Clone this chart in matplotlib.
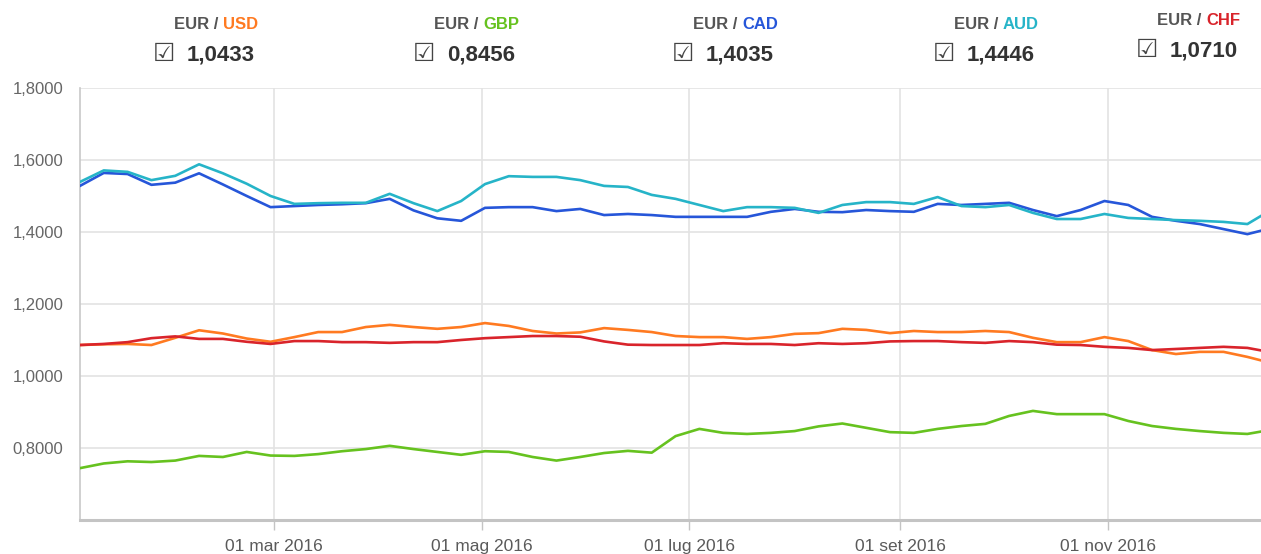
import numpy as np
import pandas as pd
import matplotlib
matplotlib.use("Agg")
from matplotlib import pyplot as plt
import matplotlib.dates as mdates

plt.rcParams['font.family'] = ['Liberation Sans', 'DejaVu Sans']

# weekly fixings, plus the last available day
dates = list(pd.date_range("2016-01-04", periods=50, freq="7D")) + [pd.Timestamp("2016-12-16")]

usd = [1.086, 1.088, 1.089, 1.086, 1.106, 1.127, 1.118, 1.104, 1.095, 1.108,
       1.122, 1.122, 1.136, 1.142, 1.136, 1.131, 1.136, 1.147, 1.139, 1.125,
       1.118, 1.121, 1.133, 1.128, 1.122, 1.111, 1.108, 1.108, 1.103, 1.108,
       1.117, 1.119, 1.131, 1.128, 1.119, 1.125, 1.122, 1.122, 1.125, 1.122,
       1.106, 1.094, 1.094, 1.108, 1.097, 1.072, 1.061, 1.067, 1.067, 1.053,
       1.0433]
gbp = [0.744, 0.757, 0.763, 0.761, 0.765, 0.778, 0.775, 0.789, 0.779, 0.778,
       0.783, 0.791, 0.797, 0.806, 0.797, 0.789, 0.781, 0.791, 0.789, 0.775,
       0.765, 0.775, 0.786, 0.792, 0.787, 0.833, 0.853, 0.842, 0.839, 0.842,
       0.847, 0.860, 0.868, 0.856, 0.844, 0.842, 0.853, 0.861, 0.867, 0.889,
       0.903, 0.894, 0.894, 0.894, 0.875, 0.861, 0.853, 0.847, 0.842, 0.839,
       0.8456]
cad = [1.528, 1.564, 1.561, 1.531, 1.537, 1.563, 1.532, 1.500, 1.469, 1.472,
       1.475, 1.477, 1.480, 1.492, 1.460, 1.438, 1.431, 1.467, 1.469, 1.469,
       1.458, 1.464, 1.447, 1.450, 1.447, 1.442, 1.442, 1.442, 1.442, 1.456,
       1.464, 1.456, 1.455, 1.461, 1.458, 1.456, 1.478, 1.475, 1.478, 1.481,
       1.461, 1.444, 1.461, 1.486, 1.475, 1.442, 1.431, 1.422, 1.408, 1.394,
       1.4035]
aud = [1.539, 1.571, 1.567, 1.544, 1.556, 1.588, 1.563, 1.534, 1.500, 1.478,
       1.480, 1.481, 1.481, 1.506, 1.480, 1.458, 1.486, 1.533, 1.555, 1.553,
       1.553, 1.544, 1.528, 1.525, 1.503, 1.492, 1.475, 1.458, 1.469, 1.469,
       1.467, 1.453, 1.475, 1.483, 1.483, 1.478, 1.497, 1.472, 1.469, 1.475,
       1.453, 1.436, 1.436, 1.450, 1.439, 1.436, 1.433, 1.431, 1.428, 1.422,
       1.4446]
chf = [1.086, 1.089, 1.094, 1.105, 1.110, 1.103, 1.103, 1.095, 1.089, 1.097,
       1.097, 1.094, 1.094, 1.092, 1.094, 1.094, 1.100, 1.105, 1.108, 1.111,
       1.111, 1.109, 1.096, 1.087, 1.086, 1.086, 1.086, 1.091, 1.089, 1.089,
       1.086, 1.091, 1.089, 1.091, 1.096, 1.097, 1.097, 1.094, 1.092, 1.097,
       1.094, 1.087, 1.086, 1.081, 1.078, 1.072, 1.075, 1.078, 1.081, 1.078,
       1.0710]

codes = ["USD", "GBP", "CAD", "AUD", "CHF"]
last_values = ["1,0433", "0,8456", "1,4035", "1,4446", "1,0710"]
colors = ["#ff7a21", "#66c21f", "#2656d9", "#26b4c8", "#d9242b"]

tick_dates = ["2016-03-01", "2016-05-01", "2016-07-01", "2016-09-01", "2016-11-01"]
tick_labels = ["01 mar 2016", "01 mag 2016", "01 lug 2016", "01 set 2016", "01 nov 2016"]
y_ticks = [0.6, 0.8, 1.0, 1.2, 1.4, 1.6, 1.8]
y_labels = ["", "0,8000", "1,0000", "1,2000", "1,4000", "1,6000", "1,8000"]

fig = plt.figure(figsize=(12.61, 5.54), dpi=100)
ax = fig.add_axes([0.0634, 0.0614, 0.9366, 0.7798])

series = [usd, gbp, cad, aud, chf]
for vals, col in zip(series, colors):
    ax.plot(dates, vals, color=col, lw=1.9, solid_joinstyle="round", zorder=3)

ax.set_xlim(dates[0], dates[-1])
ax.set_ylim(0.6, 1.8)
ax.set_yticks(y_ticks)
ax.set_yticklabels(y_labels)
ax.set_xticks([mdates.datestr2num(d) for d in tick_dates])
ax.set_xticklabels(tick_labels)

ax.grid(True, color="#e3e3e3", lw=1.2, zorder=0)
for s in ["top", "right"]:
    ax.spines[s].set_visible(False)
ax.spines["left"].set_color("#c8c8c8")
ax.spines["left"].set_linewidth(1.2)
ax.spines["bottom"].set_color("#c4c4c4")
ax.spines["bottom"].set_linewidth(2.2)
ax.tick_params(axis="y", length=0, pad=12, labelsize=12, labelcolor="#666666")
ax.tick_params(axis="x", length=7, width=1, color="#c4c4c4", pad=7,
               labelsize=12.5, labelcolor="#5a5a5a")

# header with checkboxes and last values
hdr_x = [216, 476, 735, 996, 1199]
hdr_dy = [0, 0, 0, 0, -4]
W, H = 1261, 554
for i, code in enumerate(codes):
    cx = hdr_x[i]
    dy = hdr_dy[i]
    y1 = 1 - (29 + dy) / H
    y2 = 1 - (61 + dy) / H
    fig.text((cx + 2) / W, y1, "EUR /", ha="right", va="baseline",
             fontsize=12, fontweight="bold", color="#555555")
    fig.text((cx + 7) / W, y1, code, ha="left", va="baseline",
             fontsize=12, fontweight="bold", color=colors[i])
    fig.text((cx - 63) / W, 1 - (54 + dy) / H, "\u2611", ha="left", va="center",
             fontsize=18, color="#444444", family="DejaVu Sans")
    fig.text((cx - 29) / W, y2, last_values[i], ha="left", va="baseline",
             fontsize=16, fontweight="bold", color="#333333")

fig.savefig("out.png", dpi=100)
